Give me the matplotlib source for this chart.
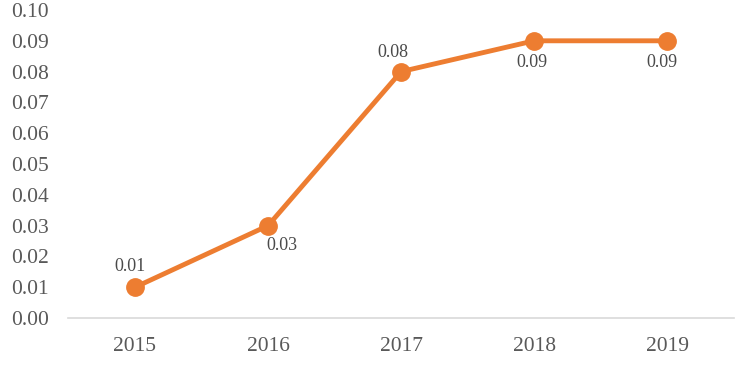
import matplotlib.pyplot as plt

years = ["2015", "2016", "2017", "2018", "2019"]
values = [0.01, 0.03, 0.08, 0.09, 0.09]
labels = ["0.01", "0.03", "0.08", "0.09", "0.09"]
# label offsets in points (dx, dy) relative to each marker
offsets = [(-3.5, 15), (10, -14.5), (-6, 13.5), (-1.5, -15.5), (-3.5, -15.5)]

plt.rcParams['font.family'] = ['Liberation Serif', 'DejaVu Serif']

fig = plt.figure(figsize=(7.5, 3.66), dpi=100)
ax = fig.add_axes([0.0913, 0.131, 0.887, 0.8417])

x = list(range(len(years)))
ax.plot(x, values, color='#ED7D31', linewidth=3.5, marker='o', markersize=12.5,
        solid_capstyle='round', zorder=3)

for xi, v, lab, off in zip(x, values, labels, offsets):
    ax.annotate(lab, (xi, v), xytext=off, textcoords='offset points',
                ha='center', va='center', fontsize=13, color='#4a4a4a')

ax.set_xlim(-0.5, 4.5)
ax.set_ylim(0, 0.10)
ax.set_yticks([i / 100 for i in range(11)])
ax.set_yticklabels([f"{i / 100:.2f}" for i in range(11)])
ax.set_xticks(x)
ax.set_xticklabels(years)

for s in ['top', 'right', 'left']:
    ax.spines[s].set_visible(False)
ax.spines['bottom'].set_color('#D9D9D9')
ax.spines['bottom'].set_linewidth(1.2)
ax.tick_params(axis='both', length=0, labelsize=15.5, colors='#595959')
ax.tick_params(axis='y', pad=14)
ax.tick_params(axis='x', pad=14)

fig.savefig('out.png', dpi=100)
